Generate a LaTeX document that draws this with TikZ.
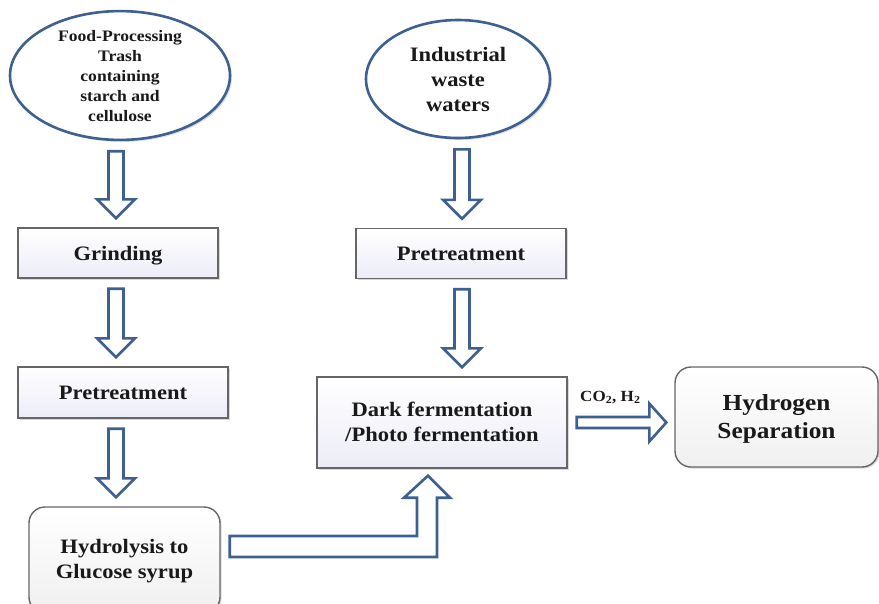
\documentclass[tikz,border=0pt]{standalone}
\usepackage{fontspec}
\setmainfont{Liberation Serif}[FakeStretch=1.1]
\usepackage{xcolor}
\usetikzlibrary{shapes.geometric,calc,shadows}

\definecolor{flowblue}{RGB}{62,96,145}
\definecolor{boxfill}{RGB}{236,236,247}
\definecolor{inkdark}{RGB}{25,25,25}

\tikzset{
  labeltext/.style={text=inkdark, font=\bfseries\fontsize{20.5}{25}\selectfont, align=center, inner sep=0pt},
  sourceoval/.style={ellipse, draw=flowblue, line width=2.6pt, fill=white, labeltext, text depth=-3pt,
    drop shadow={shadow xshift=2pt, shadow yshift=-2pt, opacity=0.25}},
  procbox/.style={rectangle, draw=black!60, line width=1.4pt, top color=white, bottom color=boxfill,
    labeltext, drop shadow={shadow xshift=1.5pt, shadow yshift=-1.5pt, opacity=0.3}},
  roundbox/.style={procbox, rounded corners=16pt, bottom color=black!6},
  blockline/.style={draw=flowblue, line width=2.6pt, fill=white, line join=miter},
}

% hollow block arrow going down, on the x of #1, from #2 to #3
\newcommand{\downblock}[3]{%
  \draw[blockline] let \p0=(#1), \p1=(#2.south), \p2=(#3.north) in
    (\x0-7.5pt,\y1-10pt) -- (\x0+7.5pt,\y1-10pt) -- (\x0+7.5pt,\y2+28pt)
    -- (\x0+19pt,\y2+28pt) -- (\x0,\y2+9pt) -- (\x0-19pt,\y2+28pt)
    -- (\x0-7.5pt,\y2+28pt) -- cycle;}

\begin{document}
\begin{tikzpicture}[x=1pt,y=-1pt]
  \useasboundingbox (0,0) rectangle (879,603);

  % columns of the arrows
  \coordinate (colL) at (116,0);
  \coordinate (colR) at (462,0);

  % sources
  \node[sourceoval, minimum width=220, minimum height=125,
        font=\bfseries\fontsize{16}{20}\selectfont] (food) at (120,75.5)
        {Food-Processing\\Trash\\containing\\starch and\\cellulose};
  \node[sourceoval, minimum width=184, minimum height=118] (indus) at (458,79)
        {Industrial\\waste\\waters};

  % left line
  \node[procbox, minimum width=200, minimum height=50, text depth=-3.5pt] (grind) at (118,253) {Grinding};
  \node[procbox, minimum width=210, minimum height=51, text depth=-2pt] (pretL) at (123,392.5) {Pretreatment};
  \node[roundbox, minimum width=191, minimum height=106, text depth=2pt] (hydro) at (124.5,560)
        {Hydrolysis to\\Glucose syrup};

  % right line
  \node[procbox, minimum width=210, minimum height=50, text depth=-2pt] (pretR) at (461,253.5) {Pretreatment};
  \node[procbox, minimum width=250, minimum height=91, text depth=2pt] (dark) at (442,422.5)
        {Dark fermentation\\/Photo fermentation};
  \node[roundbox, minimum width=203, minimum height=100, text depth=-3pt,
        font=\bfseries\fontsize{23}{28}\selectfont] (hsep) at (776.5,417)
        {Hydrogen\\Separation};

  % block arrows
  \downblock{colL}{food}{grind}
  \downblock{colL}{grind}{pretL}
  \downblock{colL}{pretL}{hydro}
  \downblock{colR}{indus}{pretR}
  \downblock{colR}{pretR}{dark}

  % elbow from hydrolysis up into the fermentation box
  \draw[blockline] let \p1=(hydro.east), \p2=(dark.south) in
    (\x1+9pt,\y1+24pt) -- (417,\y1+24pt) -- (417,\y2-29pt) -- (404,\y2-29pt)
    -- (428,\y2-7pt) -- (450,\y2-29pt) -- (437,\y2-29pt) -- (437,\y1+3pt)
    -- (\x1+9pt,\y1+3pt) -- cycle;

  % gas out to separation
  \draw[blockline] let \p1=(dark.east), \p2=(hsep.west) in
    (\x1+9pt,\y1+5.5pt) -- (\x2-25pt,\y1+5.5pt) -- (\x2-25pt,\y1+19pt)
    -- (\x2-8pt,\y1) -- (\x2-25pt,\y1-19pt) -- (\x2-25pt,\y1-5.5pt)
    -- (\x1+9pt,\y1-5.5pt) -- cycle;
  \node[labeltext, font=\bfseries\fontsize{15.5}{18}\selectfont] (gas)
        at ($(dark.east)!0.4!(hsep.west)+(0,-23)$) {CO\textsubscript{2}, H\textsubscript{2}};
\end{tikzpicture}
\end{document}
